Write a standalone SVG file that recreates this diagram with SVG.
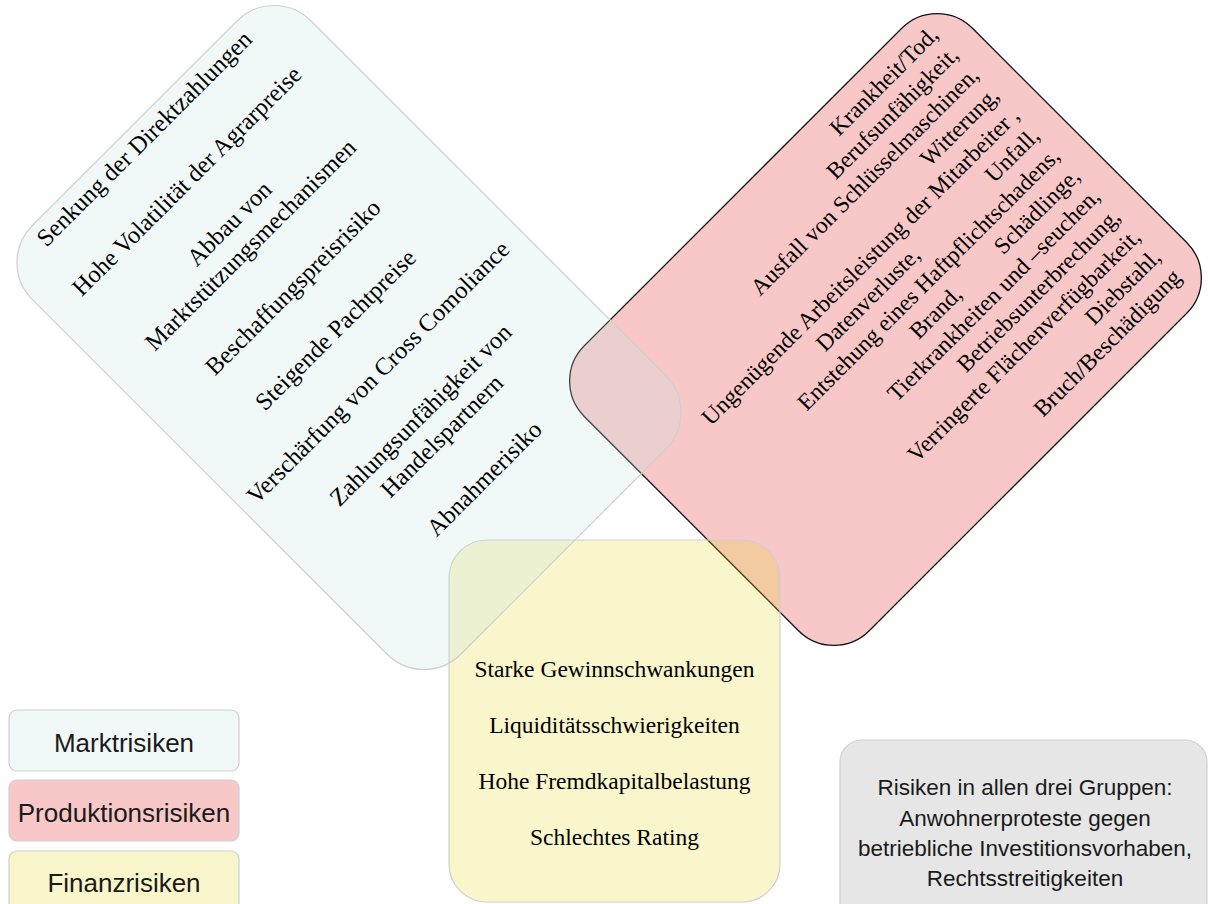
<svg xmlns="http://www.w3.org/2000/svg" width="1208" height="904" viewBox="0 0 1208 904">
  <style>
    .serif { font-family: "Liberation Serif", "Times New Roman", serif; fill: #000; }
    .sans { font-family: "Liberation Sans", Arial, sans-serif; fill: #1a1a1a; }
    .c-text { font-size: 24.5px; text-anchor: middle; }
    .r-text { font-size: 23.5px; text-anchor: end; }
    .r-start { text-anchor: start; }
    .y-text { font-size: 23.5px; text-anchor: middle; }
    .legend-text { font-size: 26px; text-anchor: middle; }
    .note-text { font-size: 22.5px; text-anchor: middle; }
    .soft-edge { stroke: #cfcfcf; stroke-width: 1.2; }
  </style>

  <rect width="1208" height="904" fill="#ffffff"/>

  <!-- no connectors in this chart -->
  <g id="connectors"/>

  <!-- production risks: rounded panel tilted -45deg -->
  <g id="produktionsrisiken">
    <rect x="-274.5" y="-201.5" width="549" height="403" rx="50" transform="translate(885.5 329.5) rotate(-45)" fill="#E42424" fill-opacity="0.25" stroke="#111" stroke-width="1.3"/>
    <g class="serif r-text" transform="rotate(-45)">
      <text x="639" y="690">Krankheit/Tod,</text>
      <text x="639" y="718.6">Berufsunfähigkeit,</text>
      <text x="639" y="747.2">Ausfall von Schlüsselmaschinen,</text>
      <text x="639" y="775.8">Witterung,</text>
      <text x="639" y="804.4">Ungenügende Arbeitsleistung der Mitarbeiter ,</text>
      <text x="334" y="833" class="r-start">Datenverluste,</text>
      <text x="639" y="833">Unfall,</text>
      <text x="639" y="861.6">Entstehung eines Haftpflichtschadens,</text>
      <text x="409" y="890.2" class="r-start">Brand,</text>
      <text x="639" y="890.2">Schädlinge,</text>
      <text x="639" y="918.8">Tierkrankheiten und –seuchen,</text>
      <text x="639" y="947.4">Betriebsunterbrechung,</text>
      <text x="639" y="976">Verringerte Flächenverfügbarkeit,</text>
      <text x="639" y="1004.6">Diebstahl,</text>
      <text x="639" y="1033.2">Bruch/Beschädigung</text>
    </g>
  </g>

  <!-- financial risks: upright rounded panel -->
  <g id="finanzrisiken">
    <rect x="449" y="540" width="331" height="362" rx="38" fill="#E6D200" fill-opacity="0.2" class="soft-edge"/>
    <g class="serif y-text">
      <text x="614.5" y="677">Starke Gewinnschwankungen</text>
      <text x="614.5" y="733">Liquiditätsschwierigkeiten</text>
      <text x="614.5" y="789">Hohe Fremdkapitalbelastung</text>
      <text x="614.5" y="845">Schlechtes Rating</text>
    </g>
  </g>

  <!-- market risks: rounded panel tilted 45deg -->
  <g id="marktrisiken">
    <rect x="-303" y="-197" width="606" height="394" rx="52" transform="translate(349 337.5) rotate(45)" fill="#C4E4E4" fill-opacity="0.25" class="soft-edge"/>
    <g class="serif c-text" transform="rotate(-45)">
      <text x="4" y="208">Senkung der Direktzahlungen</text>
      <text x="4" y="268.1">Hohe Volatilität der Agrarpreise</text>
      <text x="4" y="328.2">Abbau von</text>
      <text x="4" y="358.3">Marktstützungsmechanismen</text>
      <text x="4" y="418.4">Beschaffungspreisrisiko</text>
      <text x="4" y="478.5">Steigende Pachtpreise</text>
      <text x="4" y="538.7">Verschärfung von Cross Comoliance</text>
      <text x="4" y="598.8">Zahlungsunfähigkeit von</text>
      <text x="4" y="628.8">Handelspartnern</text>
      <text x="4" y="689">Abnahmerisiko</text>
    </g>
  </g>

  <!-- legend -->
  <g id="legende-markt">
    <rect x="9" y="710" width="230" height="61" rx="8" fill="#F0F8F8" class="soft-edge"/>
    <text class="sans legend-text" x="124" y="752">Marktrisiken</text>
  </g>
  <g id="legende-produktion">
    <rect x="9" y="780" width="230" height="61" rx="8" fill="#F8C8C8" class="soft-edge"/>
    <text class="sans legend-text" x="124" y="822">Produktionsrisiken</text>
  </g>
  <g id="legende-finanz">
    <rect x="9" y="851" width="230" height="62" rx="8" fill="#FAF6CC" class="soft-edge"/>
    <text class="sans legend-text" x="124" y="892">Finanzrisiken</text>
  </g>

  <!-- risks shared by all groups -->
  <g id="gemeinsame-risiken">
    <rect x="840" y="740" width="367" height="190" rx="22" fill="#E6E6E6" class="soft-edge"/>
    <g class="sans note-text">
      <text x="1025" y="795">Risiken in allen drei Gruppen:</text>
      <text x="1025" y="825.5">Anwohnerproteste gegen</text>
      <text x="1025" y="856">betriebliche Investitionsvorhaben,</text>
      <text x="1025" y="886">Rechtsstreitigkeiten</text>
    </g>
  </g>
</svg>
